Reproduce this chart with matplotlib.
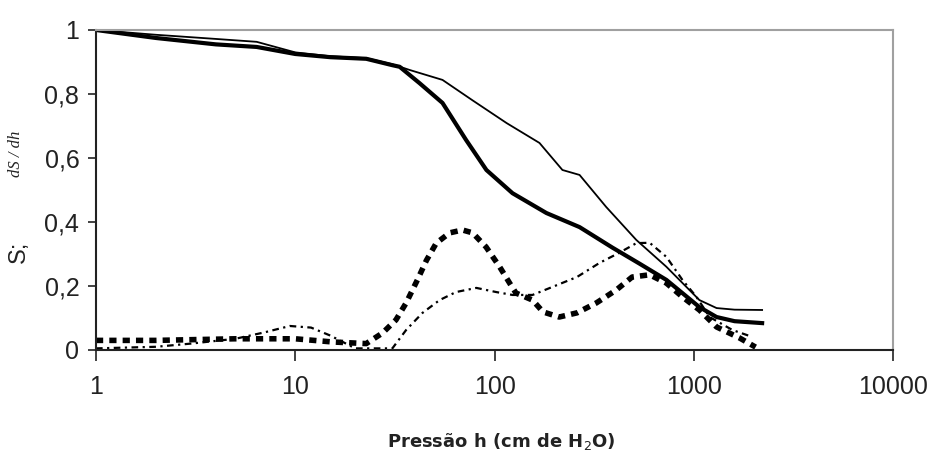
import matplotlib
matplotlib.use("Agg")
import matplotlib.pyplot as plt

# Curvas de retenção (S) e suas derivadas (dS/dh) em função da pressão
h_seca = [1, 2, 4, 6.4, 10, 15, 22.7, 30.7, 33.4, 42, 54.8, 72, 91, 123, 182,
          267, 390, 533, 728, 1066, 1300, 1600, 2200]
s_seca = [1.0, 0.975, 0.955, 0.947, 0.925, 0.915, 0.91, 0.89, 0.885, 0.834,
          0.772, 0.656, 0.5625, 0.49, 0.428, 0.384, 0.32, 0.27, 0.219, 0.134,
          0.103, 0.09, 0.084]

h_umid = [1, 2, 4, 6.4, 10, 15, 22.7, 30.7, 37.5, 54.8, 77.6, 115, 168, 219,
          267, 363, 514, 728, 1066, 1300, 1600, 2200]
s_umid = [1.0, 0.985, 0.972, 0.963, 0.93, 0.918, 0.912, 0.893, 0.875, 0.844,
          0.78, 0.709, 0.647, 0.5625, 0.547, 0.447, 0.344, 0.26, 0.156, 0.131,
          0.126, 0.125]

h_dseca = [1, 2, 5, 10, 15.4, 22.7, 27.4, 32, 36, 41, 45.5, 51, 59.5, 69,
           77.6, 90.6, 106, 119, 128, 155, 175, 211, 259, 324, 408, 490, 600,
           728, 876, 1066, 1300, 1690, 2040]
ds_seca = [0.03, 0.03, 0.035, 0.035, 0.025, 0.02, 0.053, 0.094, 0.147, 0.219,
           0.28, 0.334, 0.366, 0.375, 0.366, 0.322, 0.26, 0.209, 0.178, 0.156,
           0.119, 0.103, 0.116, 0.147, 0.1875, 0.228, 0.235, 0.209, 0.166,
           0.125, 0.072, 0.038, 0.009]

h_dumid = [1, 2, 3, 5, 7, 9.4, 12, 15, 20, 30.7, 36, 43.5, 53, 64, 81, 102,
           123, 155, 195, 259, 336, 420, 515, 600, 728, 876, 1030, 1200, 1560,
           1960]
ds_umid = [0.005, 0.01, 0.02, 0.035, 0.055, 0.075, 0.07, 0.045, 0.005, 0.005,
           0.0625, 0.116, 0.156, 0.181, 0.194, 0.181, 0.172, 0.172, 0.197,
           0.228, 0.272, 0.303, 0.334, 0.335, 0.291, 0.219, 0.166, 0.103,
           0.0625, 0.041]

x_ticks = [1, 10, 100, 1000, 10000]
y_ticks = [0, 0.2, 0.4, 0.6, 0.8, 1.0]
y_labels = ["0", "0,2", "0,4", "0,6", "0,8", "1"]

plt.rcParams["font.family"] = ["Liberation Sans", "DejaVu Sans"]

fig = plt.figure(figsize=(9.39, 4.55), dpi=100)
ax = fig.add_axes([0.1022, 0.2308, 0.849, 0.7033])

ax.plot(h_umid, s_umid, color="black", lw=1.3)
ax.plot(h_seca, s_seca, color="black", lw=3.0)
ax.plot(h_dseca, ds_seca, color="black", lw=4.0, linestyle=(0, (1.3, 1.1)))
ax.plot(h_dumid, ds_umid, color="black", lw=1.6, linestyle=(0, (3, 2, 1, 2)))

ax.set_xscale("log")
ax.set_xlim(1, 10000)
ax.set_ylim(0, 1)
ax.set_xticks(x_ticks)
ax.set_xticklabels([str(t) for t in x_ticks])
ax.minorticks_off()
ax.set_yticks(y_ticks)
ax.set_yticklabels(y_labels)

ax.tick_params(axis="both", direction="out", labelsize=18, colors="#222222",
               width=1.2)
ax.tick_params(axis="x", length=8, pad=10)
ax.tick_params(axis="y", length=6, pad=6)

for lado in ["top", "right"]:
    ax.spines[lado].set_color("#a0a0a0")
    ax.spines[lado].set_linewidth(1.5)
for lado in ["left", "bottom"]:
    ax.spines[lado].set_color("#222222")
    ax.spines[lado].set_linewidth(1.5)

# rótulo do eixo y em duas partes: "S;" e "dS / dh"
fig.text(19 / 939, 1 - 252 / 455, "S;", rotation=90, fontsize=17,
         ha="center", va="center", color="#222222")
fig.text(16 / 939, 1 - 154 / 455, "dS / dh", rotation=90, fontsize=12,
         family=["Liberation Serif", "DejaVu Serif"], style="italic",
         ha="center", va="center", color="#222222")

fig.text(0.534, 1 - 441 / 455, "Pressão h (cm de H$_2$O)", fontsize=13,
         family=["DejaVu Sans"], fontweight="bold", ha="center", va="center",
         color="#222222")

fig.savefig("out.png", dpi=100)
